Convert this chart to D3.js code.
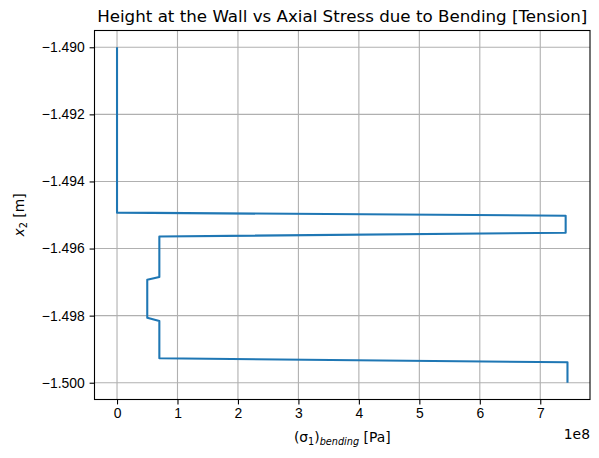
<!DOCTYPE html>
<html>
<head>
<meta charset="utf-8">
<script src="https://cdn.jsdelivr.net/npm/d3@7"></script>
<style>
  body { margin: 0; background: #fff; }
  svg { font-family: "DejaVu Sans", sans-serif; }
  .grid line { stroke: #b0b0b0; stroke-width: 1.1; }
  .axis path, .axis line { stroke: #000; stroke-width: 1.1; }
  .axis text { font-size: 13.9px; fill: #000; }
</style>
</head>
<body>
<script>
// stress values [Pa] and heights [m] along the wall
var stress = [0, 0, 7.42e8, 7.42e8, 0.70e8, 0.70e8, 0.50e8, 0.50e8, 0.70e8, 0.70e8, 7.45e8, 7.45e8];
var height = [-1.4900, -1.49493, -1.49502, -1.49553, -1.49564, -1.49685, -1.49693, -1.49806, -1.49816, -1.49927, -1.49939, -1.5000];
var xTicks = [0, 1e8, 2e8, 3e8, 4e8, 5e8, 6e8, 7e8];
var yTicks = [-1.490, -1.492, -1.494, -1.496, -1.498, -1.500];

var W = 599, H = 458;
var m = {left: 94.5, right: 9, top: 30.5, bottom: 58.5};
var w = W - m.left - m.right, h = H - m.top - m.bottom;

var pts = stress.map(function(s, i) { return [s, height[i]]; });

var xExt = d3.extent(stress), yExt = d3.extent(height);
var xPad = (xExt[1] - xExt[0]) * 0.05, yPad = (yExt[1] - yExt[0]) * 0.05;

var x = d3.scaleLinear().domain([xExt[0] - xPad, xExt[1] + xPad]).range([0, w]);
var y = d3.scaleLinear().domain([yExt[0] - yPad, yExt[1] + yPad]).range([h, 0]);

var svg = d3.select('body').append('svg')
  .attr('width', W)
  .attr('height', H);

var g = svg.append('g')
  .attr('transform', 'translate(' + m.left + ',' + m.top + ')');

// grid
var grid = g.append('g').attr('class', 'grid');
grid.selectAll('.gx').data(xTicks).enter().append('line')
  .attr('x1', function(d) { return x(d); })
  .attr('x2', function(d) { return x(d); })
  .attr('y1', 0).attr('y2', h);
grid.selectAll('.gy').data(yTicks).enter().append('line')
  .attr('y1', function(d) { return y(d); })
  .attr('y2', function(d) { return y(d); })
  .attr('x1', 0).attr('x2', w);

// the curve
g.append('path')
  .datum(pts)
  .attr('fill', 'none')
  .attr('stroke', '#1f77b4')
  .attr('stroke-width', 2.08)
  .attr('stroke-linejoin', 'round')
  .attr('d', d3.line()
    .x(function(d) { return x(d[0]); })
    .y(function(d) { return y(d[1]); }));

// axes
var xAxis = g.append('g')
  .attr('class', 'axis')
  .attr('transform', 'translate(0,' + h + ')')
  .call(d3.axisBottom(x).tickValues(xTicks).tickSizeOuter(0).tickSize(4.9).tickPadding(4)
    .tickFormat(function(d) { return d3.format('d')(d / 1e8); }));

var yAxis = g.append('g')
  .attr('class', 'axis')
  .call(d3.axisLeft(y).tickValues(yTicks).tickSizeOuter(0).tickSize(4.9).tickPadding(4.9)
    .tickFormat(function(d) { return d3.format('.3f')(d).replace('-', '\u2212'); }));

xAxis.select('.domain').remove();
yAxis.select('.domain').remove();

// frame
g.append('rect')
  .attr('width', w)
  .attr('height', h)
  .attr('fill', 'none')
  .attr('stroke', '#000')
  .attr('stroke-width', 1.1);

// title
svg.append('text')
  .attr('x', m.left + w / 2)
  .attr('y', 22)
  .attr('text-anchor', 'middle')
  .style('font-size', '16.7px')
  .text('Height at the Wall vs Axial Stress due to Bending [Tension]');

// x label
var xl = svg.append('text')
  .attr('x', m.left + w / 2)
  .attr('y', 442)
  .attr('text-anchor', 'middle')
  .style('font-size', '13.9px');
xl.append('tspan').text('(\u03c3');
xl.append('tspan').style('font-size', '9.7px').attr('dy', 2.5).text('1');
xl.append('tspan').attr('dy', -2.5).text(')');
xl.append('tspan').style('font-size', '9.7px').style('font-style', 'italic').attr('dy', 2.5).text('bending');
xl.append('tspan').attr('dy', -2.5).text(' [Pa]');

// offset label
svg.append('text')
  .attr('x', m.left + w)
  .attr('y', 439)
  .attr('text-anchor', 'end')
  .style('font-size', '13.9px')
  .text('1e8');

// y label
var yl = svg.append('text')
  .attr('transform', 'translate(24,' + (m.top + h / 2) + ') rotate(-90)')
  .attr('text-anchor', 'middle')
  .style('font-size', '13.9px');
yl.append('tspan').style('font-style', 'italic').text('x');
yl.append('tspan').style('font-size', '9.7px').attr('dy', 2.5).text('2');
yl.append('tspan').attr('dy', -2.5).text(' [m]');
</script>
</body>
</html>
